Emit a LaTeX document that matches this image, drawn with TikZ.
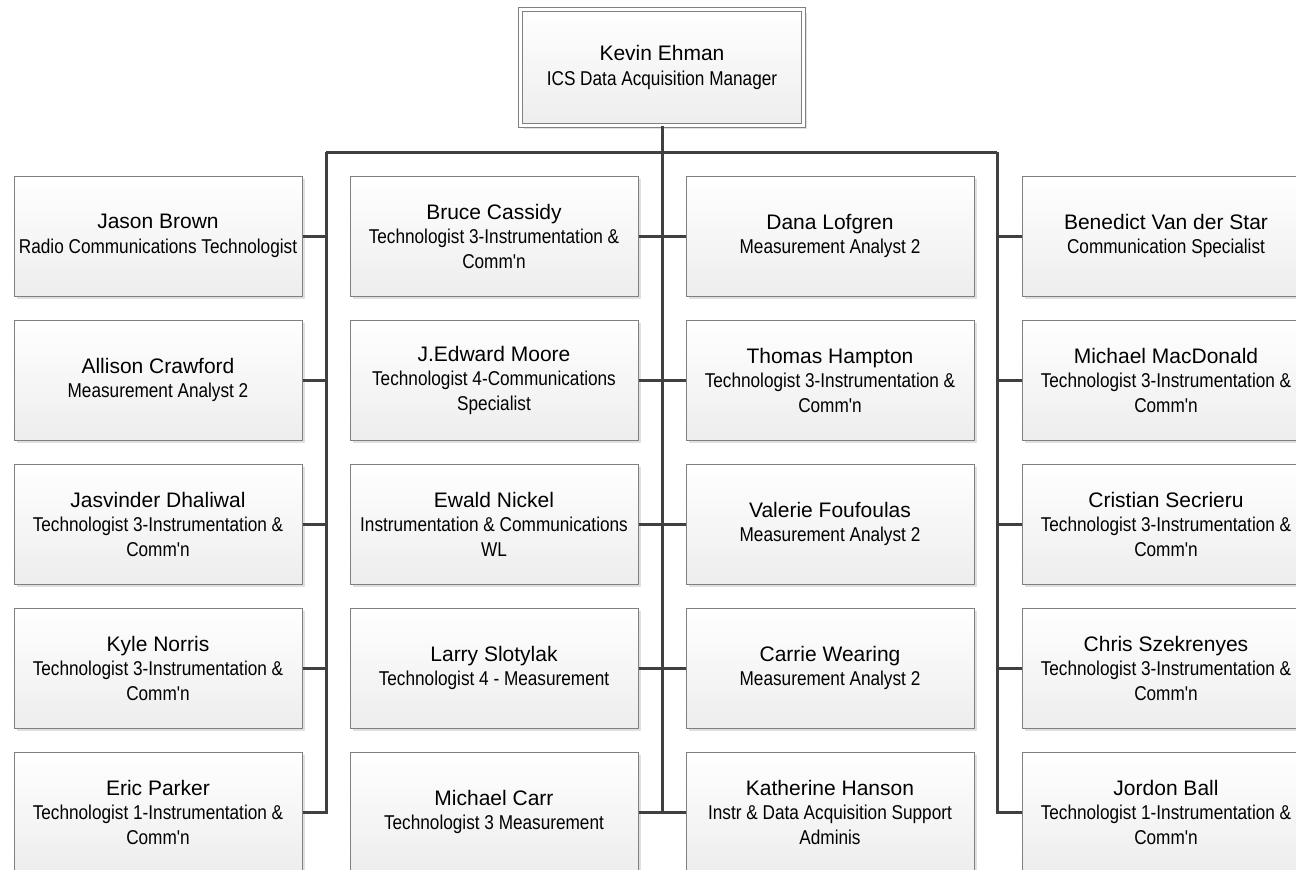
\documentclass[tikz,border=0pt]{standalone}
\usepackage{fontspec}
\setmainfont{Liberation Sans}
\newfontfamily\narrowfont[FakeStretch=0.86]{Liberation Sans}
\usetikzlibrary{shadows}

% job title lines: condensed face, slightly smaller
\newcommand\ttl{\narrowfont\fontsize{20}{24.5}\selectfont}

\tikzset{
  person/.style={
    draw=black!50, line width=1pt,
    top color=white, bottom color=black!7,
    minimum width=288pt, minimum height=120pt,
    inner sep=0pt, align=center,
    font=\fontsize{21}{24.5}\selectfont,
    drop shadow={shadow xshift=3pt, shadow yshift=-3pt, fill=black!12, opacity=1}
  },
  manager/.style={
    person, draw=black!50, line width=0.8pt,
    double=white, double distance=3.5pt,
    minimum width=283pt, minimum height=116pt
  },
  link/.style={draw=black!75, line width=3pt}
}

\begin{document}
\begin{tikzpicture}[x=1pt, y=-1pt]
  \useasboundingbox (0,0) rectangle (1296,870);
  \fill[white] (0,0) rectangle (1296,870);

  % head of the group
  \node[manager] (head) at (662,67.5) {Kevin Ehman\\\ttl ICS Data Acquisition Manager};

  % column 1
  \node[person] (a1) at (158,236) {Jason Brown\\\ttl Radio Communications Technologist};
  \node[person] (a2) at (158,380) {Allison Crawford\\\ttl Measurement Analyst 2};
  \node[person] (a3) at (158,524) {Jasvinder Dhaliwal\\\ttl Technologist 3-Instrumentation \&\\\ttl Comm'n};
  \node[person] (a4) at (158,668) {Kyle Norris\\\ttl Technologist 3-Instrumentation \&\\\ttl Comm'n};
  \node[person] (a5) at (158,812) {Eric Parker\\\ttl Technologist 1-Instrumentation \&\\\ttl Comm'n};

  % column 2
  \node[person] (b1) at (494,236) {Bruce Cassidy\\\ttl Technologist 3-Instrumentation \&\\\ttl Comm'n};
  \node[person] (b2) at (494,380) {J.Edward Moore\\\ttl Technologist 4-Communications\\\ttl Specialist};
  \node[person] (b3) at (494,524) {Ewald Nickel\\\ttl Instrumentation \& Communications\\\ttl WL};
  \node[person] (b4) at (494,668) {Larry Slotylak\\\ttl Technologist 4 - Measurement};
  \node[person] (b5) at (494,812) {Michael Carr\\\ttl Technologist 3 Measurement};

  % column 3
  \node[person] (c1) at (830,236) {Dana Lofgren\\\ttl Measurement Analyst 2};
  \node[person] (c2) at (830,380) {Thomas Hampton\\\ttl Technologist 3-Instrumentation \&\\\ttl Comm'n};
  \node[person] (c3) at (830,524) {Valerie Foufoulas\\\ttl Measurement Analyst 2};
  \node[person] (c4) at (830,668) {Carrie Wearing\\\ttl Measurement Analyst 2};
  \node[person] (c5) at (830,812) {Katherine Hanson\\\ttl Instr \& Data Acquisition Support\\\ttl Adminis};

  % column 4
  \node[person] (d1) at (1166,236) {Benedict Van der Star\\\ttl Communication Specialist};
  \node[person] (d2) at (1166,380) {Michael MacDonald\\\ttl Technologist 3-Instrumentation \&\\\ttl Comm'n};
  \node[person] (d3) at (1166,524) {Cristian Secrieru\\\ttl Technologist 3-Instrumentation \&\\\ttl Comm'n};
  \node[person] (d4) at (1166,668) {Chris Szekrenyes\\\ttl Technologist 3-Instrumentation \&\\\ttl Comm'n};
  \node[person] (d5) at (1166,812) {Jordon Ball\\\ttl Technologist 1-Instrumentation \&\\\ttl Comm'n};

  % reporting lines
  \coordinate (busL) at (326,152);
  \coordinate (hub)  at (662,152);
  \coordinate (busR) at (997,152);

  \draw[link] (head.south) -- (hub);
  \draw[link] (busL) -- (busR);
  \foreach \i in {1,...,5} {
    \draw[link] (a\i.east) -| (busL);
    \draw[link] (b\i.east) -| (hub);
    \draw[link] (c\i.west) -| (hub);
    \draw[link] (d\i.west) -| (busR);
  }
\end{tikzpicture}
\end{document}
